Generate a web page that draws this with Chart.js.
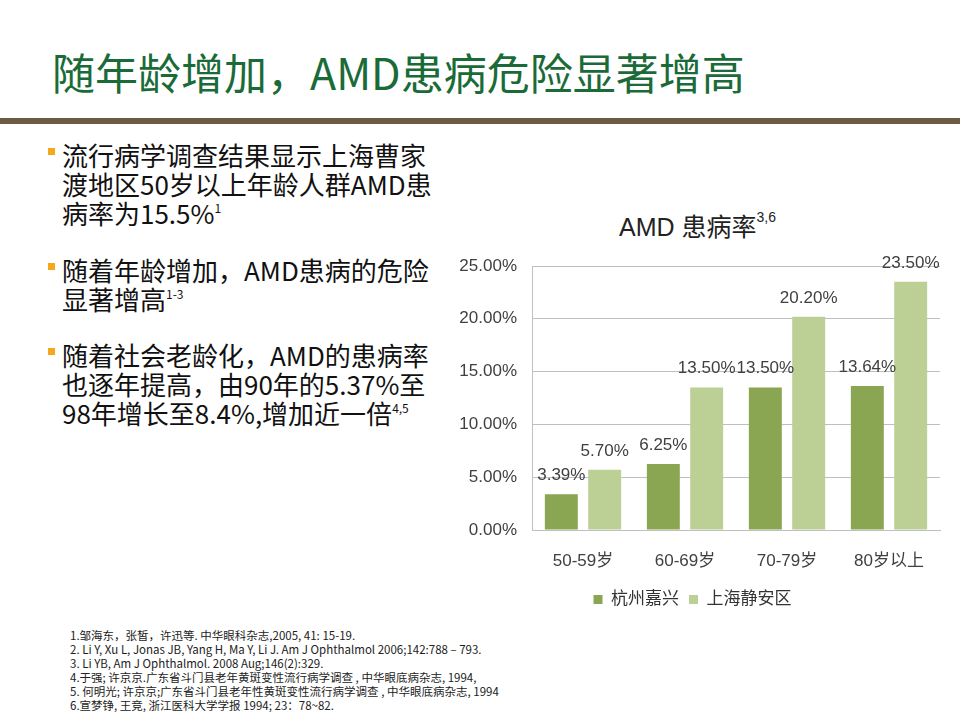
<!DOCTYPE html>
<html><head><meta charset="utf-8">
<script src="https://cdn.jsdelivr.net/npm/chart.js@4"></script>
<style>
html,body{margin:0;padding:0;background:#fff;width:960px;height:720px;overflow:hidden;position:relative;font-family:"Noto Sans CJK SC",sans-serif;}
#title{position:absolute;left:52px;top:46px;font-size:43px;line-height:50px;color:#1a6b38;white-space:nowrap;}
#rule{position:absolute;left:0;top:118px;width:960px;height:6px;background:#6d5b44;}
.para{position:absolute;left:62px;font-size:26px;line-height:29px;color:#111;white-space:nowrap;}
.para .b{position:absolute;left:-14px;top:8px;width:7px;height:7px;background:#f5a81c;}
.para sup{font-size:12px;vertical-align:top;line-height:12px;position:relative;top:4px;}
#refs{position:absolute;left:70px;top:628px;font-size:11.5px;line-height:14px;color:#222;white-space:nowrap;}
#ctitle{position:absolute;left:445px;top:210px;width:505px;text-align:center;font-family:"Liberation Sans",Arial,"Noto Sans CJK SC",sans-serif;font-size:25px;line-height:34px;color:#222;}
#ctitle sup{font-size:14px;vertical-align:top;line-height:14px;}
#wrap{position:absolute;left:445px;top:240px;width:505px;height:378px;}
</style></head>
<body>
<div id="title">随年龄增加，AMD患病危险显著增高</div>
<div id="rule"></div>
<div class="para" style="top:140px"><div class="b"></div>流行病学调查结果显示上海曹家<br>渡地区50岁以上年龄人群AMD患<br>病率为15.5%<sup>1</sup></div>
<div class="para" style="top:255px"><div class="b"></div>随着年龄增加，AMD患病的危险<br>显著增高<sup>1-3</sup></div>
<div class="para" style="top:340px"><div class="b"></div>随着社会老龄化，AMD的患病率<br>也逐年提高，由90年的5.37%至<br>98年增长至8.4%,增加近一倍<sup>4,5</sup></div>
<div id="ctitle">AMD 患病率<sup>3,6</sup></div>
<div id="wrap"><canvas id="c"></canvas></div>
<div id="refs">1.邹海东，张皙，许迅等. 中华眼科杂志,2005, 41: 15-19.<br>2. Li Y, Xu L, Jonas JB, Yang H, Ma Y, Li J. Am J Ophthalmol 2006;142:788 – 793.<br>3. Li YB, Am J Ophthalmol. 2008 Aug;146(2):329.<br>4.于强; 许京京.广东省斗门县老年黄斑变性流行病学调查 , 中华眼底病杂志, 1994,<br>5. 何明光; 许京京;广东省斗门县老年性黄斑变性流行病学调查 , 中华眼底病杂志, 1994<br>6.宣梦铮, 王竞, 浙江医科大学学报 1994; 23：78~82.</div>
<script>
const categories = ['50-59岁', '60-69岁', '70-79岁', '80岁以上'];
const seriesNames = ['杭州嘉兴', '上海静安区'];
const hangzhouJiaxing = [3.39, 6.25, 13.50, 13.64];
const shanghaiJingan = [5.70, 13.50, 20.20, 23.50];
const yTicks = [0, 5, 10, 15, 20, 25];

const FONT = '"Liberation Sans", Arial, "Noto Sans CJK SC", sans-serif';
const labelPlugin = {
  id: 'barLabels',
  afterDatasetsDraw(chart) {
    const ctx = chart.ctx;
    ctx.save();
    ctx.font = '17px ' + FONT;
    ctx.fillStyle = '#404040';
    ctx.textAlign = 'center';
    ctx.textBaseline = 'alphabetic';
    chart.data.datasets.forEach((ds, i) => {
      const meta = chart.getDatasetMeta(i);
      meta.data.forEach((bar, j) => {
        ctx.fillText(ds.data[j].toFixed(2) + '%', bar.x, bar.y - 14);
      });
    });
    ctx.restore();
  }
};

new Chart(document.getElementById('c'), {
  type: 'bar',
  data: {
    labels: categories,
    datasets: [
      { label: seriesNames[0], data: hangzhouJiaxing, backgroundColor: '#8aa652' },
      { label: seriesNames[1], data: shanghaiJingan, backgroundColor: '#bcd096' }
    ]
  },
  options: {
    responsive: true,
    maintainAspectRatio: false,
    animation: false,
    devicePixelRatio: 1,
    datasets: { bar: { categoryPercentage: 0.85, barPercentage: 0.76 } },
    layout: { padding: { top: 26, right: 10, left: 0, bottom: 0 } },
    plugins: {
      legend: {
        position: 'bottom',
        labels: { boxWidth: 9, boxHeight: 9, padding: 10, color: '#333', font: { size: 17, family: FONT } }
      },
      title: { display: false },
      tooltip: { enabled: false }
    },
    scales: {
      x: {
        grid: { display: false, drawTicks: false },
        border: { display: true, color: '#bfbfbf' },
        ticks: { color: '#404040', padding: 21, font: { size: 17, family: FONT } },
        afterFit(s) { s.height = 51; }
      },
      y: {
        min: 0, max: 25,
        afterBuildTicks(s) { s.ticks = yTicks.map(v => ({ value: v })); },
        grid: { color: '#bfbfbf', drawTicks: false },
        border: { display: true, color: '#bfbfbf' },
        ticks: { color: '#404040', padding: 15, font: { size: 17, family: FONT }, callback: v => v.toFixed(2) + '%' },
        afterFit(s) { s.width = 87; }
      }
    }
  },
  plugins: [labelPlugin]
});
</script>
</body></html>
